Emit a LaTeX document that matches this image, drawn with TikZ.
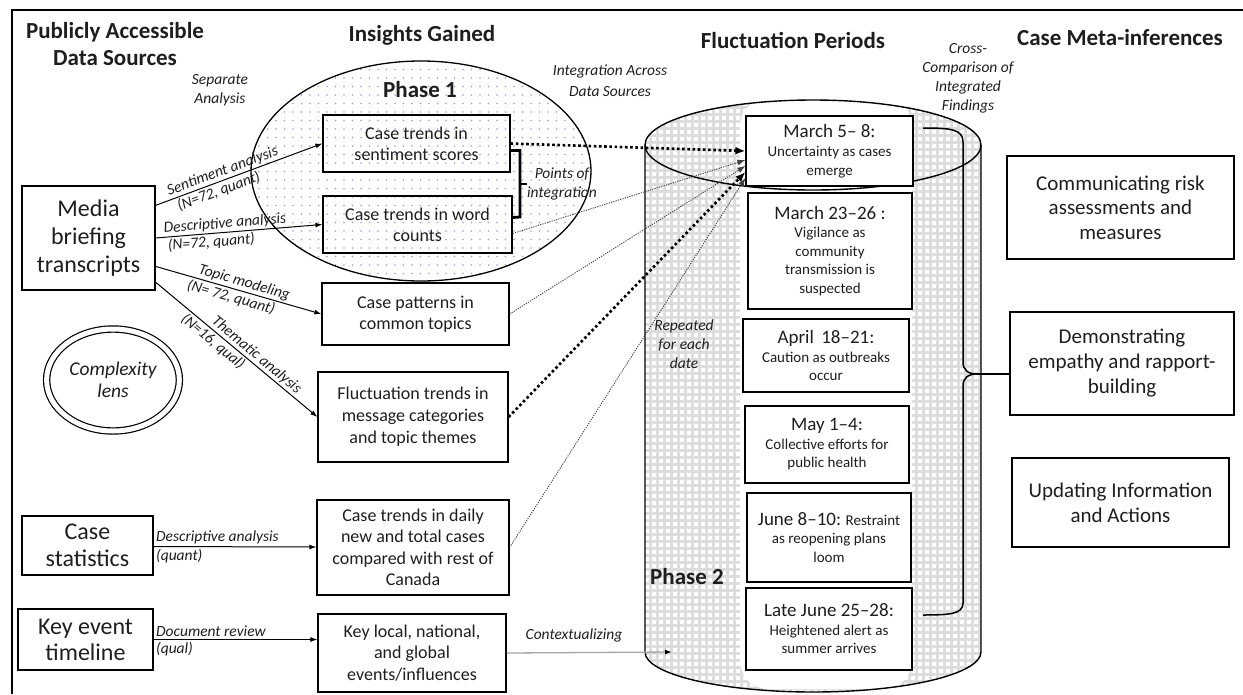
\documentclass[tikz,border=0pt]{standalone}
\usepackage{fontspec}
\setmainfont{Carlito}
\usetikzlibrary{arrows.meta,patterns,calc,shapes.geometric}

\pgfdeclarepatternformonly{sdots}{\pgfpoint{-1pt}{-1pt}}{\pgfpoint{9.5pt}{9.5pt}}{\pgfpoint{8.5pt}{8.5pt}}{\pgfpathcircle{\pgfpoint{4pt}{4pt}}{0.8pt}\pgfusepath{fill}}
\pgfdeclarepatternformonly{checks}{\pgfpointorigin}{\pgfpoint{7pt}{7pt}}{\pgfpoint{7pt}{7pt}}{\pgfpathrectangle{\pgfpoint{1.2pt}{1.2pt}}{\pgfpoint{4.6pt}{4.6pt}}\pgfusepath{fill}}

\definecolor{dotblue}{RGB}{140,165,215}
\definecolor{cylgray}{RGB}{220,220,220}
\definecolor{ink}{RGB}{30,30,30}

\newcommand\fsz[2]{\fontsize{#1}{#2}\selectfont}

\tikzset{
  box/.style={draw=black, line width=1.2pt, align=center, inner sep=0pt, text=ink},
  datebox/.style={box, fill=white, font=\fsz{15}{18.5}},
  lbl/.style={font=\fsz{15.5}{19}\itshape, align=center, text=ink},
  ttl/.style={font=\fsz{23}{27}\bfseries, align=center, text=ink},
  arr/.style={-{Latex[length=7pt,width=5pt]}, line width=1pt},
  thickdot/.style={line width=2.6pt, dash pattern=on 2.6pt off 2.6pt, -{Latex[length=10pt,width=8pt]}},
  thindot/.style={line width=0.9pt, black!75, dash pattern=on 1.2pt off 1.2pt, -{Latex[length=8pt,width=6pt]}},
}

\begin{document}
\begin{tikzpicture}[x=1pt,y=-1pt]
\useasboundingbox (0,0) rectangle (1243,694);
% frame
\draw[line width=1.2pt] (12,694) -- (12,10) -- (1243,10);

% titles
\node[ttl] (t1) at (115,44) {Publicly Accessible\\Data Sources};
\node[ttl] (t2) at (422,35) {Insights Gained};
\node[ttl] (t3) at (793,40) {Fluctuation Periods};
\node[ttl] (t4) at (1120,38) {Case Meta-inferences};

% phase 1 ellipse
\fill[pattern=sdots, pattern color=dotblue] (421,171) ellipse [x radius=170, y radius=110];
\draw[line width=1.3pt] (421,171) ellipse [x radius=170, y radius=110];
\node[font=\fsz{23}{26}\bfseries, text=ink] (ph1) at (420,90) {Phase 1};

% cylinder
\fill[cylgray] (645,145) -- (645,652) arc[start angle=180,end angle=0,x radius=168,y radius=40] -- (981,145) arc[start angle=0,end angle=-180,x radius=168,y radius=45] -- cycle;
\fill[pattern=checks, pattern color=white] (645,145) -- (645,652) arc[start angle=180,end angle=0,x radius=168,y radius=40] -- (981,145) arc[start angle=0,end angle=-180,x radius=168,y radius=45] -- cycle;
\begin{scope}
\clip (645,145) -- (645,652) arc[start angle=180,end angle=0,x radius=168,y radius=40] -- (981,145) arc[start angle=0,end angle=-180,x radius=168,y radius=45] -- cycle;
\fill[white, rounded corners=28pt] (740,98) rectangle (912,689);
\end{scope}
\draw[line width=1.4pt] (645,145) -- (645,652) arc[start angle=180,end angle=0,x radius=168,y radius=40] -- (981,145);
\draw[line width=1.4pt] (813,145) ellipse [x radius=168, y radius=45];
\node[font=\fsz{23}{26}\bfseries, text=ink] (ph2) at (687,577) {Phase 2};

% left sources
\node[box, font=\fsz{24}{28}, minimum width=133pt, minimum height=104pt] (media) at (88.5,238) {Media\\briefing\\transcripts};
\node[box, font=\fsz{24}{27}, minimum width=131pt, minimum height=59pt] (stats) at (87.5,545.5) {Case\\statistics};
\node[box, font=\fsz{24}{26}, minimum width=135pt, minimum height=61pt] (keyev) at (85.5,639.5) {Key event\\timeline};
\node[ellipse, draw, line width=1.2pt, double, double distance=5pt, minimum width=132pt, minimum height=102pt, font=\fsz{19.5}{22}\itshape, align=center, text=ink] (lens) at (113,380) {Complexity\\lens};

% insights boxes
\node[box, font=\fsz{18}{21}, minimum width=187pt, minimum height=57pt] (sent) at (416.5,143.5) {Case trends in\\sentiment scores};
\node[box, font=\fsz{18}{21}, minimum width=189pt, minimum height=57pt] (words) at (417.5,224.5) {Case trends in word\\counts};
\node[box, font=\fsz{18}{21}, minimum width=187pt, minimum height=62pt] (patt) at (415.5,314) {Case patterns in\\common topics};
\node[box, font=\fsz{18}{22}, minimum width=190pt, minimum height=90pt] (fluct) at (413,417) {Fluctuation trends in\\message categories\\and topic themes};
\node[box, font=\fsz{18}{21.5}, minimum width=192pt, minimum height=95pt] (daily) at (413,547.5) {Case trends in daily\\new and total cases\\compared with rest of\\Canada};
\node[box, font=\fsz{18}{21.5}, minimum width=188pt, minimum height=78pt] (keyloc) at (412,653) {Key local, national,\\and global\\events/influences};

% date boxes
\node[datebox, minimum width=167pt, minimum height=70pt] (m1) at (829.5,151) {{\fsz{19}{19}March 5– 8:}\\[1pt]Uncertainty as cases\\emerge};
\node[datebox, minimum width=164pt, minimum height=116pt] (m2) at (830,251) {{\fsz{19}{19}March 23–26 :}\\Vigilance as\\community\\transmission is\\suspected};
\node[datebox, minimum width=166pt, minimum height=73pt] (m3) at (826,355.5) {{\fsz{19}{19}April\, 18–21:}\\Caution as outbreaks\\occur};
\node[datebox, minimum width=164pt, minimum height=77pt] (m4) at (827,444.5) {{\fsz{19}{19}May 1–4:}\\Collective efforts for\\public health};
\node[datebox, minimum width=164pt, minimum height=89pt] (m5) at (829,537.5) {{\fsz{19}{19}June 8–10:} Restraint\\as reopening plans\\loom};
\node[datebox, minimum width=166pt, minimum height=82pt] (m6) at (829,629) {{\fsz{19}{19}Late June 25–28:}\\Heightened alert as\\summer arrives};

% right boxes
\node[box, font=\fsz{21}{24.5}, minimum width=227pt, minimum height=103pt] (comm) at (1120.5,207.5) {Communicating risk\\assessments and\\measures};
\node[box, font=\fsz{21}{25}, minimum width=224pt, minimum height=103pt] (demo) at (1122,363.5) {Demonstrating\\empathy and rapport-\\building};
\node[box, font=\fsz{21}{25}, minimum width=217pt, minimum height=89pt] (upd) at (1120.5,502.5) {Updating Information\\and Actions};

% free labels
\node[lbl] (l1) at (220,90) {Separate\\Analysis};
\node[lbl, font=\fsz{15.5}{21}\itshape] (l2) at (610,81) {Integration Across\\Data Sources};
\node[lbl] (l3) at (968,78) {Cross-\\Comparison of\\Integrated\\Findings};
\node[lbl] (l4) at (562,184) {Points of\\integration};
\node[lbl] (l5) at (684,344) {Repeated\\for each\\date};
\node[lbl] (l6) at (574,635) {Contextualizing};

% analysis arrows
\draw[arr] ($(media.north east)!0.19!(media.south east)$) -- (sent.west)
  node[pos=0.42, sloped, above, lbl, inner sep=1.5pt] {Sentiment analysis}
  node[pos=0.36, sloped, below, lbl, inner sep=1.5pt] {(N=72, quant)};
\draw[arr] (media.east) -- (words.west)
  node[pos=0.42, sloped, above, lbl, inner sep=1.5pt] {Descriptive analysis}
  node[pos=0.33, sloped, below, lbl, inner sep=1.5pt] {(N=72, quant)};
\draw[arr] ($(media.north east)!0.77!(media.south east)$) -- (patt.west)
  node[pos=0.52, sloped, above, lbl, inner sep=1.5pt] {Topic modeling}
  node[pos=0.47, sloped, below, lbl, inner sep=1.5pt] {(N= 72, quant)};
\draw[arr] ($(media.north east)!0.92!(media.south east)$) -- (fluct.west)
  node[pos=0.59, sloped, above, lbl, inner sep=1.5pt] {Thematic analysis}
  node[pos=0.39, sloped, below, lbl, inner sep=1.5pt] {(N=16, qual)};
\draw[arr] ($(stats.east)+(0,1)$) -- ($(daily.west)+(0,-0.5)$)
  node[pos=0, anchor=south west, lbl, inner sep=2pt] {Descriptive analysis}
  node[pos=0, anchor=north west, lbl, inner sep=2pt] {(quant)};
\draw[arr] (keyev.east) -- (keyev.east -| keyloc.west)
  node[pos=0, anchor=south west, lbl, inner sep=2pt] {Document review}
  node[pos=0, anchor=north west, lbl, inner sep=2pt] {(qual)};

% points of integration bracket
\draw[line width=2.8pt] ($(sent.east)+(0,7)$) -| (520,217) -- ($(words.east)+(0,-7)$);
\coordinate (pb) at (520,184);
\draw[line width=2.8pt] (pb) -- ++(7,0);

% integration arrows
\draw[thickdot] (sent.east) -- (m1.west);
\draw[thindot] ($(words.east)+(0,9)$) -- ($(m1.west)+(0,9)$);
\draw[thindot] (patt.east) -- ($(m1.west)+(0,15)$);
\draw[thickdot] (fluct.east) -- ($(m1.west)+(0,21)$);
\draw[thindot] (daily.east) -- ($(m1.west)+(0,27)$);

% contextualizing
\coordinate (ctx) at (672,652);
\draw[gray!70, line width=1.3pt, -{Latex[length=7pt,width=5pt,color=black]}] (keyloc.east) -- (ctx);

% cross-comparison brace
\coordinate (bt) at (977,374);
\draw[line width=1.5pt] (923,128) .. controls (950,128) and (963,129) .. (963,142) -- (963,362) .. controls (963,370) and (968,374) .. (bt) .. controls (968,374) and (963,378) .. (963,386) -- (963,603) .. controls (963,614) and (950,615) .. (923,615);
\draw[line width=1.5pt] (bt) -- (bt -| demo.west);
\end{tikzpicture}
\end{document}
